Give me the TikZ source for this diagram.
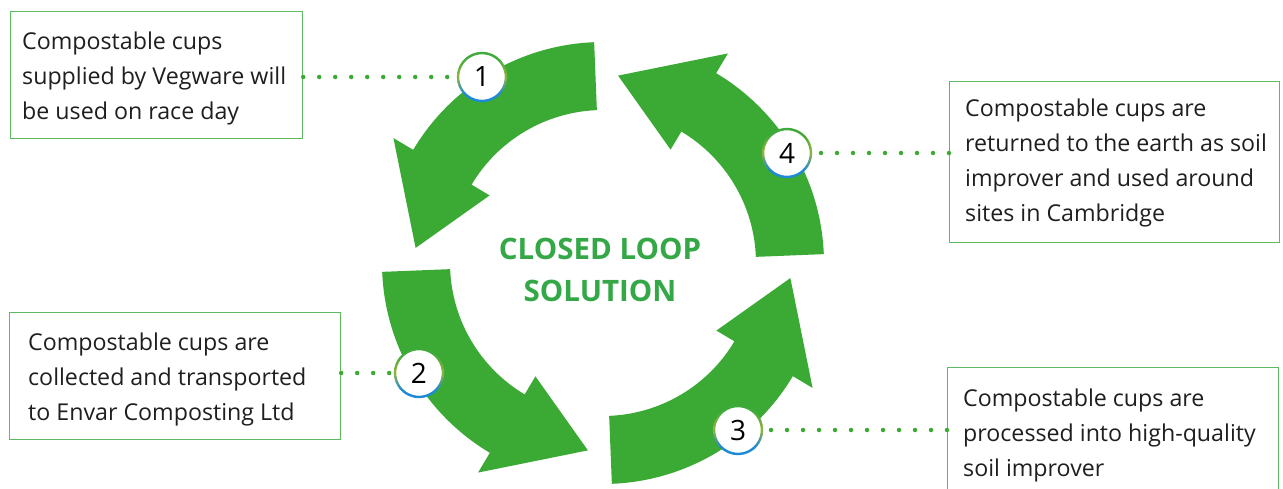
\documentclass[tikz,border=0pt]{standalone}
\usepackage{fontspec}
\setmainfont{Open Sans}
\usetikzlibrary{calc}
\definecolor{arrowgreen}{HTML}{3BAA35}
\definecolor{titlegreen}{HTML}{34A846}
\definecolor{boxgreen}{HTML}{5CBA60}
\definecolor{dotgreen}{HTML}{3BAA35}
\definecolor{ringgreen}{HTML}{3DAA3A}
\definecolor{ringolive}{HTML}{93B53B}
\definecolor{ringblue}{HTML}{1E8AD6}
\begin{document}
\begin{tikzpicture}[x=1pt,y=1pt,
  textbox/.style={draw=boxgreen, line width=1.2pt, rectangle, inner sep=0pt, anchor=north west},
  boxtext/.style={align=left, inner sep=0pt, anchor=north west, font=\fontsize{23.2}{35}\selectfont, text=black!88},
  numc/.style={circle, fill=white, minimum size=48pt, inner sep=0pt, font=\fontsize{28}{28}\selectfont, text=black},
  dotline/.style={dotgreen, line width=4.5pt, line cap=round, dash pattern=on 0pt off 16pt}
]
\useasboundingbox (0,0) rectangle (1283,488);
\fill[white] (0,0) rectangle (1283,488);
% centre of the loop
\coordinate (C) at (603,225);
% four curved arrows
\foreach \o in {0,90,180,270}{
  \fill[arrowgreen] ($(C)+(92.3+\o:153)$) -- ($(C)+(92.3+\o:221)$)
    arc[start angle=92.3+\o, end angle=149.2+\o, radius=221pt]
    -- ($(C)+(149.2+\o:244)$) -- ($(C)+(175.4+\o:188)$) -- ($(C)+(149.2+\o:132)$)
    -- ($(C)+(149.2+\o:153)$)
    arc[start angle=149.2+\o, end angle=92.3+\o, radius=153pt] -- cycle;
}
% boxes
\node[textbox, minimum width=292pt, minimum height=127pt] (b1) at (10,477) {};
\node[textbox, minimum width=331pt, minimum height=127pt] (b2) at (9,176) {};
\node[textbox, minimum width=331pt, minimum height=140pt] (b3) at (947,121) {};
\node[textbox, minimum width=330pt, minimum height=161pt] (b4) at (949,407) {};
% texts
\node[boxtext] (t1) at (22,456.5) {Compostable cups\\supplied by Vegware will\\be used on race day};
\node[boxtext] (t2) at (28,155.5) {Compostable cups are\\collected and transported\\to Envar Composting Ltd};
\node[boxtext] (t3) at (963,99.5) {Compostable cups are\\processed into high-quality\\soil improver};
\node[boxtext] (t4) at (965,389.5) {Compostable cups are\\returned to the earth as soil\\improver and used around\\sites in Cambridge};
\node[font=\fontsize{29.5}{42}\selectfont\bfseries, text=titlegreen, align=center, inner sep=0pt] (title) at (600,218) {CLOSED LOOP\\SOLUTION};
% number circles
\node[numc] (c1) at (482,411) {1};
\node[numc] (c2) at (419,115) {2};
\node[numc] (c3) at (738,58) {3};
\node[numc] (c4) at (787,335) {4};
% dotted connectors
\draw[dotline] (b1.east |- c1.west) -- (c1.west);
\draw[dotline] (b2.east |- c2.west) -- (c2.west);
\draw[dotline] (b3.west |- c3.east) -- (c3.east);
\draw[dotline] (b4.west |- c4.east) -- (c4.east);
% gradient rings
\foreach \n in {c1,c2,c3,c4}{
  \foreach \a in {0,10,...,350}{
    \pgfmathsetmacro\s{sin(\a+5)}
    \pgfmathtruncatemacro\wg{\s>0 ? min(100,130*\s) : 0}
    \pgfmathtruncatemacro\wb{\s<0 ? min(100,-140*\s) : 0}
    \colorlet{segc}{ringgreen!\wg!ringolive}
    \ifnum\wb>0 \colorlet{segc}{ringblue!\wb!ringolive}\fi
    \draw[segc, line width=2.4pt] (\n.center) ++(\a:24) arc[start angle=\a, end angle=\a+10.5, radius=24pt];
  }
}
\end{tikzpicture}
\end{document}
